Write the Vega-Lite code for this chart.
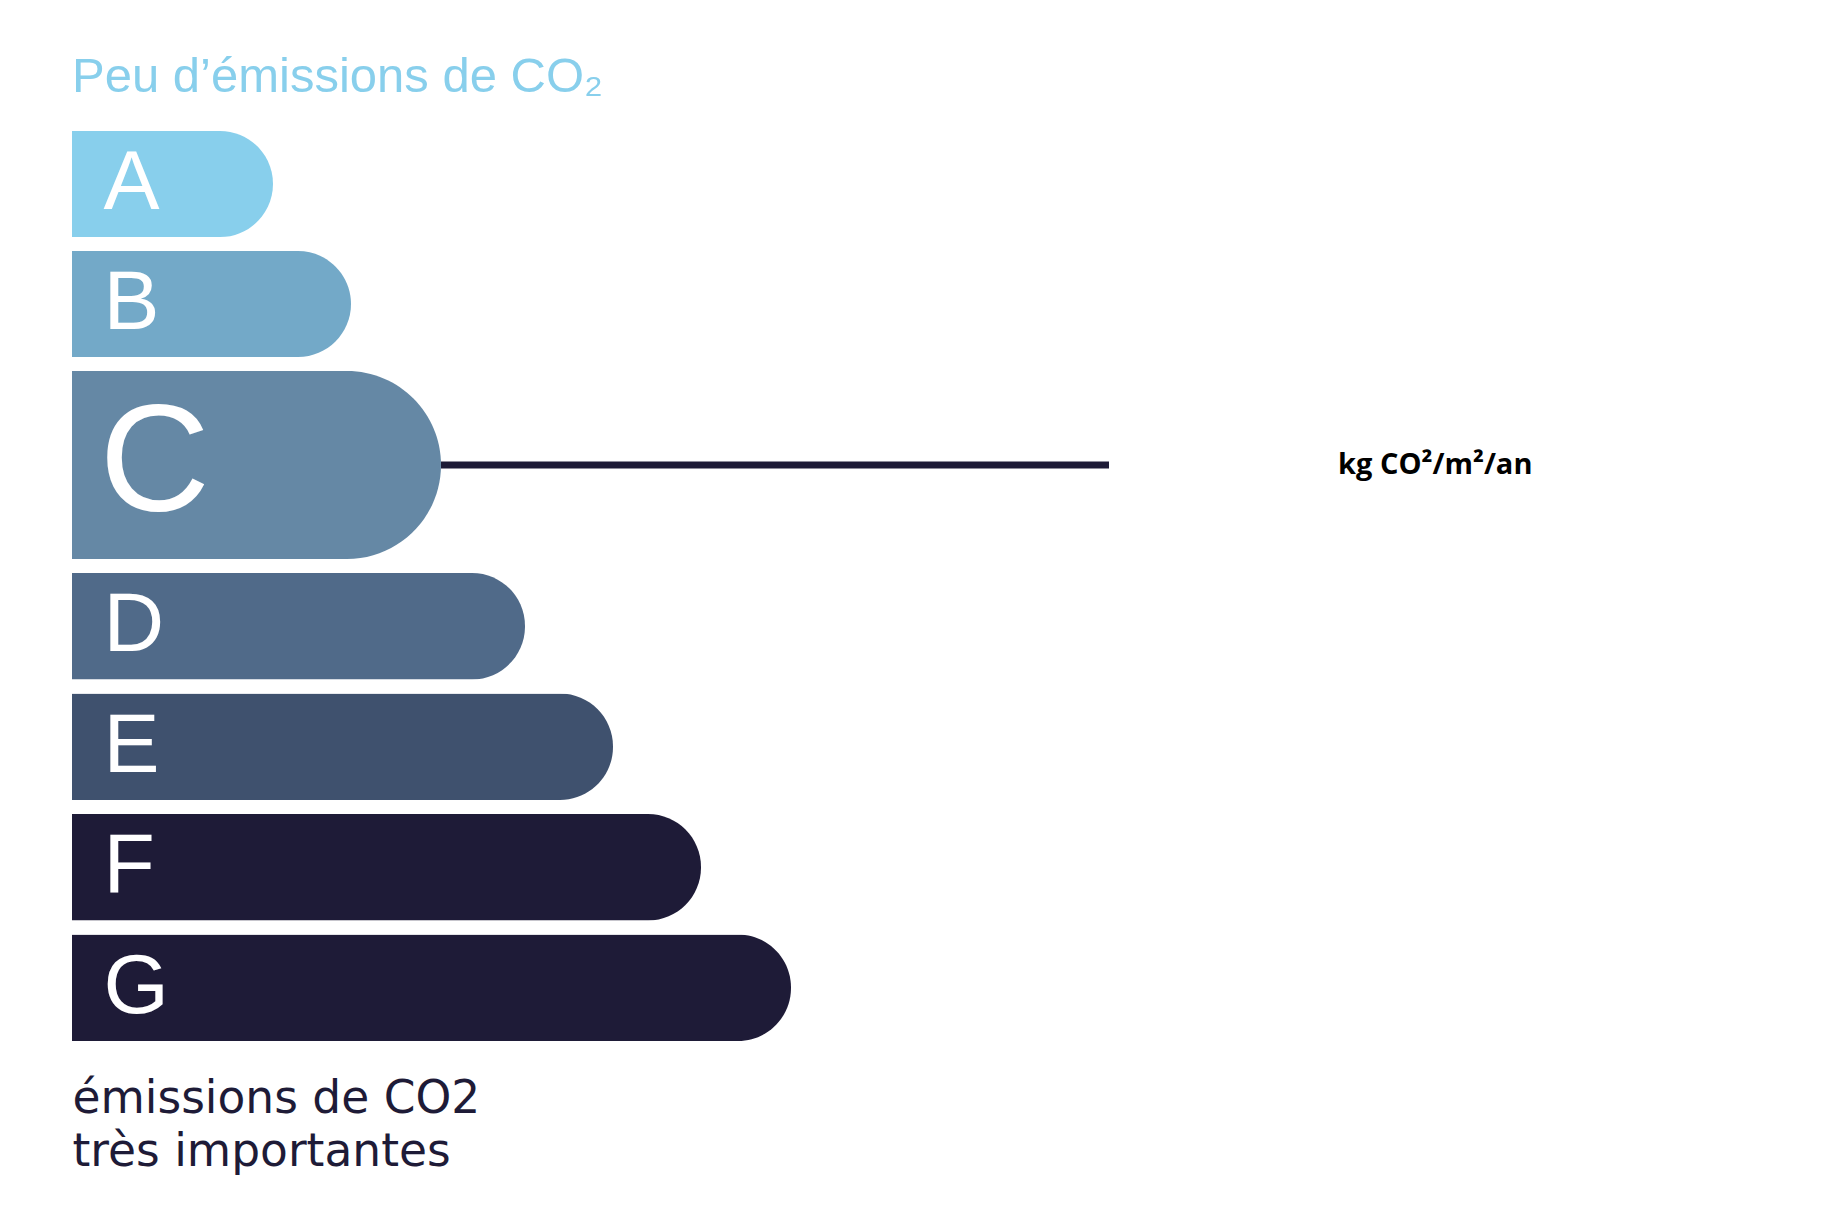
{
  "$schema": "https://vega.github.io/schema/vega-lite/v6.json",
  "background": "white",
  "padding": {"left": 72, "top": 53, "right": 0, "bottom": 0},
  "title": {
    "text": "Peu d’émissions de CO₂",
    "anchor": "start",
    "frame": "group",
    "font": "Liberation Sans",
    "fontSize": 49,
    "fontWeight": "normal",
    "color": "#88CFEC",
    "offset": 29
  },
  "datasets": {
    "classes": [
      {"classe": "A", "longueur": 201},
      {"classe": "B", "longueur": 279},
      {"classe": "C", "longueur": 369},
      {"classe": "D", "longueur": 453},
      {"classe": "E", "longueur": 541},
      {"classe": "F", "longueur": 629},
      {"classe": "G", "longueur": 719}
    ]
  },
  "spacing": 14,
  "resolve": {"scale": {"y": "independent", "x": "shared", "color": "shared"}},
  "vconcat": [
    {
      "width": 1700,
      "height": 226,
      "data": {"name": "classes"},
      "transform": [{"filter": {"field": "classe", "oneOf": ["A", "B"]}}],
      "mark": {"type": "bar", "cornerRadiusEnd": 53},
      "encoding": {
        "y": {
          "field": "classe", "type": "nominal",
          "scale": {"paddingInner": 0.1167, "paddingOuter": 0},
          "axis": {"title": null, "domain": false, "ticks": false, "tickSize": 0, "labelPadding": -31, "labelAlign": "left", "labelFontSize": 84, "labelFont": "Liberation Sans", "labelColor": "white", "zindex": 1}
        },
        "x": {"field": "longueur", "type": "quantitative", "scale": {"domain": [0, 1700], "nice": false}, "axis": null},
        "color": {
          "field": "classe", "type": "nominal", "legend": null,
          "scale": {"domain": ["A", "B", "C", "D", "E", "F", "G"], "range": ["#88CFEC", "#73A9C8", "#6588A5", "#506A89", "#3F516E", "#1E1B37", "#1E1B37"]}
        }
      }
    },
    {
      "width": 1700,
      "height": 188,
      "data": {"name": "classes"},
      "transform": [{"filter": {"field": "classe", "equal": "C"}}],
      "encoding": {
        "y": {
          "field": "classe", "type": "nominal",
          "scale": {"paddingInner": 0, "paddingOuter": 0},
          "axis": {"title": null, "domain": false, "ticks": false, "tickSize": 0, "labelPadding": -27, "labelAlign": "left", "labelFontSize": 153, "labelFont": "Liberation Sans", "labelColor": "white", "zindex": 1}
        }
      },
      "layer": [
        {
          "mark": {"type": "bar", "cornerRadiusEnd": 94},
          "encoding": {
            "x": {"field": "longueur", "type": "quantitative", "scale": {"domain": [0, 1700], "nice": false}, "axis": null},
            "color": {"field": "classe", "type": "nominal", "legend": null}
          }
        },
        {
          "mark": {"type": "rule", "color": "#1E1B37", "strokeWidth": 7},
          "encoding": {
            "x": {"field": "longueur", "type": "quantitative", "axis": null},
            "x2": {"datum": 1037}
          }
        },
        {
          "mark": {"type": "text", "align": "left", "baseline": "middle", "font": "Open Sans", "fontWeight": "bold", "fontSize": 29, "color": "#000000"},
          "encoding": {
            "x": {"datum": 1266, "type": "quantitative", "axis": null},
            "text": {"value": "kg CO²/m²/an"}
          }
        }
      ]
    },
    {
      "width": 1700,
      "height": 468,
      "data": {"name": "classes"},
      "transform": [{"filter": {"field": "classe", "oneOf": ["D", "E", "F", "G"]}}],
      "mark": {"type": "bar", "cornerRadiusEnd": 53},
      "encoding": {
        "y": {
          "field": "classe", "type": "nominal",
          "scale": {"paddingInner": 0.1167, "paddingOuter": 0},
          "axis": {"title": null, "domain": false, "ticks": false, "tickSize": 0, "labelPadding": -31, "labelAlign": "left", "labelFontSize": 84, "labelFont": "Liberation Sans", "labelColor": "white", "zindex": 1}
        },
        "x": {
          "field": "longueur", "type": "quantitative", "scale": {"domain": [0, 1700], "nice": false},
          "axis": {"title": ["émissions de CO2", "très importantes"], "labels": false, "ticks": false, "domain": false, "grid": false, "titleAnchor": "start", "titleAlign": "left", "titleBaseline": "top", "titleFont": "DejaVu Sans", "titleFontSize": 45.5, "titleFontWeight": "normal", "titleColor": "#1E1B37", "titleLineHeight": 53, "titlePadding": 35}
        },
        "color": {"field": "classe", "type": "nominal", "legend": null}
      }
    }
  ],
  "config": {"view": {"stroke": null}}
}
